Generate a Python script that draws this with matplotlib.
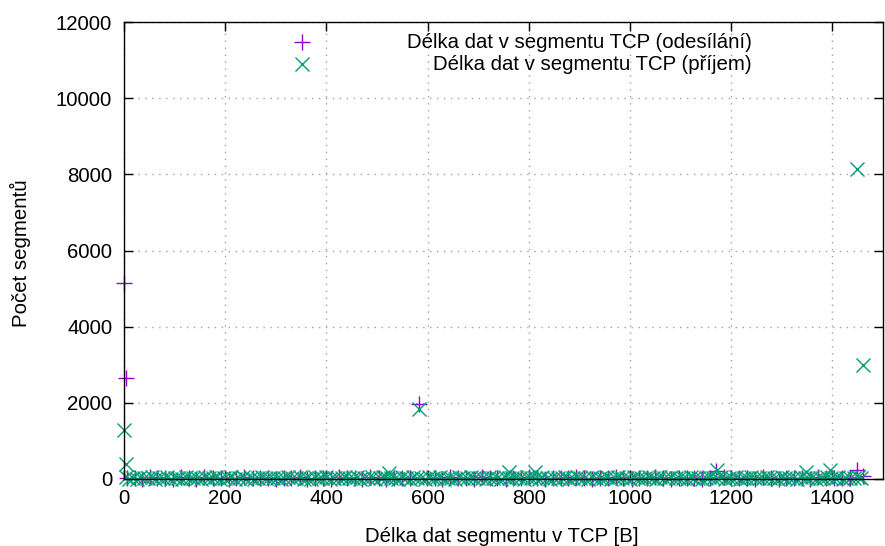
import matplotlib
matplotlib.use("Agg")
import matplotlib.pyplot as plt

plt.rcParams['font.family'] = ['Liberation Sans', 'DejaVu Sans']

# ---- data: sent (odesílání) ----
sent_peak_x = [0, 4, 583, 1170, 1448, 1461]
sent_peak_y = [5150, 2650, 1970, 200, 240, 80]

sent_band_x = [6, 21, 35, 52, 66, 81, 97, 112, 128, 143, 158, 176, 191, 207, 222,
               238, 254, 269, 285, 300, 316, 331, 347, 362, 378, 394, 409, 425, 440,
               456, 471, 487, 503, 518, 534, 549, 565, 598, 614, 629, 645, 660, 676,
               691, 707, 723, 738, 754, 769, 785, 800, 816, 832, 847, 863, 878, 894,
               909, 925, 941, 956, 972, 987, 1003, 1018, 1034, 1050, 1065, 1081, 1096,
               1112, 1127, 1143, 1159, 1185, 1200, 1216, 1231, 1247, 1263, 1278, 1294,
               1309, 1325, 1340, 1356, 1372, 1387, 1403, 1418, 1434]
sent_band_y = [20, 35, 10, 45, 15, 30, 8, 50, 25, 12, 40, 18, 33, 6, 28,
               44, 14, 22, 38, 9, 31, 17, 48, 11, 26, 36, 7, 42, 19, 29,
               13, 46, 24, 10, 34, 21, 39, 16, 27, 8, 43, 18, 32, 12, 49,
               23, 37, 9, 30, 15, 41, 20, 11, 35, 26, 14, 47, 22, 10, 33,
               18, 40, 28, 7, 36, 16, 45, 24, 12, 31, 19, 38, 9, 27, 42,
               15, 34, 21, 11, 44, 25, 13, 39, 17, 30, 8, 46, 22, 35, 14, 28]

# ---- data: received (příjem) ----
recv_peak_x = [0, 4, 583, 1448, 1460, 761, 812, 523, 1171, 1347, 1396]
recv_peak_y = [1290, 390, 1840, 8140, 2990, 190, 180, 150, 240, 180, 240]

recv_band_x = [3, 10, 17, 25, 32, 40, 47, 55, 62, 70, 77, 85, 92, 100, 107, 115,
               122, 130, 137, 145, 152, 160, 167, 175, 182, 190, 197, 205, 212, 220,
               227, 235, 242, 250, 257, 265, 272, 280, 287, 295, 302, 310, 317, 325,
               332, 340, 347, 355, 362, 370, 377, 385, 392, 400, 407, 415, 422, 430,
               437, 445, 452, 460, 467, 475, 482, 490, 497, 505, 512, 520, 527, 535,
               542, 550, 557, 565, 572, 580, 587, 595, 602, 610, 617, 625, 632, 640,
               647, 655, 662, 670, 677, 685, 692, 700, 707, 715, 722, 730, 737, 745,
               752, 760, 767, 775, 782, 790, 797, 805, 812, 820, 827, 835, 842, 850,
               857, 865, 872, 880, 887, 895, 902, 910, 917, 925, 932, 940, 947, 955,
               962, 970, 977, 985, 992, 1000, 1007, 1015, 1022, 1030, 1037, 1045,
               1052, 1060, 1067, 1075, 1082, 1090, 1097, 1105, 1112, 1120, 1127, 1135,
               1142, 1150, 1157, 1165, 1172, 1180, 1187, 1195, 1202, 1210, 1217, 1225,
               1232, 1240, 1247, 1255, 1262, 1270, 1277, 1285, 1292, 1300, 1307, 1315,
               1322, 1330, 1337, 1345, 1352, 1360, 1367, 1375, 1382, 1390, 1397, 1405,
               1412, 1420, 1427, 1435, 1442, 1450, 1457]
recv_band_y = [45, 12, 30, 8, 60, 22, 15, 40, 5, 28, 18, 52, 10, 35, 25, 7, 48, 20, 14, 38,
               9, 55, 26, 16, 42, 6, 31, 19, 58, 11, 24, 44, 13, 36, 8, 27, 50, 17, 33, 21,
               39, 10, 29, 47, 15, 23, 56, 12, 34, 7, 41, 20, 26, 53, 9, 37, 18, 30, 46, 14,
               25, 61, 11, 32, 19, 43, 8, 28, 51, 16, 35, 22, 6, 40, 27, 13, 49, 21, 33, 10,
               44, 17, 29, 57, 12, 36, 24, 9, 42, 18, 31, 54, 15, 26, 38, 7, 47, 20, 34, 11,
               59, 23, 16, 41, 28, 9, 50, 19, 35, 13, 45, 25, 8, 39, 30, 17, 52, 12, 27, 43,
               21, 36, 10, 48, 24, 15, 33, 56, 11, 29, 40, 18, 26, 7, 46, 22, 37, 14, 53, 31,
               9, 42, 19, 28, 60, 16, 34, 25, 12, 45, 20, 38, 8, 30, 51, 17, 27, 41, 13, 35,
               23, 49, 10, 32, 18, 44, 26, 14, 39, 55, 21, 29, 11, 47, 16, 36, 24, 9, 43, 28,
               19, 52, 12, 33, 22, 40, 15, 31, 58, 10, 37, 25, 17, 46, 27, 13, 34, 20, 48, 11]

x_ticks = [0, 200, 400, 600, 800, 1000, 1200, 1400]
y_ticks = [0, 2000, 4000, 6000, 8000, 10000, 12000]

label_sent = "Délka dat v segmentu TCP (odesílání)"
label_recv = "Délka dat v segmentu TCP (příjem)"
xlabel = "Délka dat segmentu v TCP [B]"
ylabel = "Počet segmentů"

PURPLE = "#9400d3"
GREEN = "#009e73"
FS = 14.7

W, H = 885, 546
fig = plt.figure(figsize=(W / 100, H / 100), dpi=100)
ax = fig.add_axes([124 / W, 1 - 479 / H, (883 - 124) / W, (479 - 22) / H])

ms = 11
mew = 1.0
sx = sent_band_x + sent_peak_x
sy = sent_band_y[:len(sent_band_x)] + sent_peak_y
rx = recv_band_x + recv_peak_x
ry = recv_band_y[:len(recv_band_x)] + recv_peak_y
ax.plot(sx, sy, linestyle='none', marker='+', color=PURPLE, ms=ms, mew=mew,
        clip_on=False, zorder=3)
ax.plot(rx, ry, linestyle='none', marker='x', color=GREEN, ms=ms * 0.95, mew=mew,
        clip_on=False, zorder=4)

ax.set_xlim(0, 1500)
ax.set_ylim(0, 12000)
ax.set_xticks(x_ticks)
ax.set_yticks(y_ticks)
ax.tick_params(direction='in', length=6.5, width=1, top=True, right=True,
               labelsize=FS, colors='black')
ax.tick_params(axis='y', pad=8.5)
ax.tick_params(axis='x', pad=7)
ax.grid(True, color='#a0a0a0', linestyle=(0, (1, 4)), linewidth=1)
ax.set_axisbelow(True)
for s in ax.spines.values():
    s.set_linewidth(1)
    s.set_color('black')
    s.set_zorder(5)

fig.text(502 / W, 1 - 537 / H, xlabel, ha='center', va='center', fontsize=FS)
fig.text(20 / W, 1 - 253 / H, ylabel, ha='center', va='center', fontsize=FS,
         rotation=90)

# legend (key), gnuplot style: sample left, text right-justified
kx = (302 - 124) / (883 - 124)
ky1 = (479 - 42) / (479 - 22)
ky2 = (479 - 64) / (479 - 22)
tx = (752 - 124) / (883 - 124)
ax.plot([kx], [ky1], transform=ax.transAxes, marker='+', color=PURPLE, ms=ms,
        mew=mew, linestyle='none', clip_on=False)
ax.plot([kx], [ky2], transform=ax.transAxes, marker='x', color=GREEN,
        ms=ms * 0.95, mew=mew, linestyle='none', clip_on=False)
ax.text(tx, ky1, label_sent, transform=ax.transAxes, ha='right', va='center',
        fontsize=FS)
ax.text(tx, ky2, label_recv, transform=ax.transAxes, ha='right', va='center',
        fontsize=FS)

fig.savefig("out.png", dpi=100)
